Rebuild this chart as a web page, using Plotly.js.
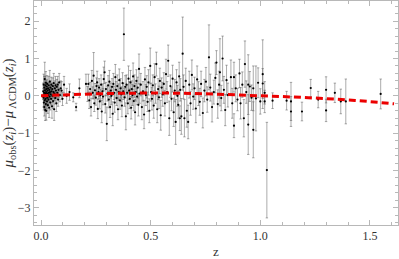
<!DOCTYPE html>
<html>
<head>
<meta charset="utf-8">
<script src="https://cdn.plot.ly/plotly-3.0.1.min.js"></script>
<style>html,body{margin:0;padding:0;background:#fff}#chart{width:399px;height:259px}</style>
</head>
<body>
<div id="chart"></div>
<script>
// Redshift of each supernova
const zVals = [
0.010,0.011,0.012,0.013,0.014,0.015,0.015,0.016,0.017,0.017,0.018,0.019,0.020,0.020,0.021,0.022,0.022,0.023,0.024,0.024,
0.025,0.026,0.027,0.028,0.028,0.029,0.030,0.031,0.032,0.033,0.034,0.035,0.036,0.037,0.038,0.039,0.040,0.041,0.042,0.043,
0.044,0.046,0.047,0.048,0.050,0.051,0.052,0.054,0.055,0.057,0.058,0.060,0.061,0.063,0.065,0.066,0.068,0.070,0.072,0.074,
0.076,0.078,0.080,0.083,0.086,0.090,0.094,0.098,0.105,0.117,0.130,0.147,0.160,0.175,
0.205,0.212,0.216,0.220,0.224,0.228,0.232,0.236,0.240,0.243,0.246,0.250,0.253,0.256,0.259,0.262,0.265,0.268,0.271,0.274,
0.277,0.280,0.283,0.286,0.290,0.293,0.296,0.300,0.303,0.306,0.309,0.312,0.315,0.318,0.321,0.324,0.327,0.330,0.333,0.336,
0.339,0.342,0.345,0.348,0.351,0.354,0.357,0.360,0.363,0.366,0.369,0.372,0.375,0.378,0.381,0.384,0.387,0.390,0.393,0.396,
0.399,0.402,0.405,0.408,0.411,0.414,0.417,0.420,0.423,0.426,0.429,0.432,0.435,0.438,0.441,0.444,0.447,0.450,
0.455,0.460,0.465,0.470,0.474,0.478,0.482,0.486,0.490,0.494,0.498,0.502,0.506,0.510,0.514,0.518,0.522,0.526,0.530,0.534,
0.538,0.542,0.546,0.550,0.555,0.560,0.565,0.570,0.575,0.580,0.585,0.590,0.595,0.600,0.605,0.610,0.614,0.618,0.622,0.626,
0.630,0.633,0.635,0.640,0.646,0.650,0.654,0.660,0.665,0.671,0.676,0.682,0.688,0.694,0.700,0.706,0.712,0.718,0.724,0.730,
0.738,0.745,0.752,0.758,0.766,0.772,0.780,0.788,0.795,0.800,0.806,0.812,0.816,0.822,0.828,0.834,0.840,0.846,0.852,
0.866,0.872,0.880,0.880,0.888,0.896,0.905,0.910,0.918,0.925,0.930,0.936,0.945,0.945,0.952,0.960,0.968,0.968,0.980,0.990,1.000,
1.011,1.011,1.020,1.020,1.030,1.056,1.120,1.140,1.140,1.190,1.230,1.264,1.300,1.300,1.340,1.367,1.390,1.549
];
// Distance-modulus residual mu_obs - mu_LCDM
const residuals = [
0.12,-0.05,0.30,-0.18,0.08,0.22,-0.30,0.02,0.45,-0.12,0.15,-0.38,0.05,0.28,-0.08,0.35,-0.22,0.10,0.18,-0.40,
0.00,0.25,-0.15,0.06,0.32,-0.05,0.14,-0.25,0.20,0.02,-0.10,0.28,0.08,-0.32,0.16,-0.02,0.38,0.10,-0.18,0.22,
0.04,-0.08,0.30,0.12,-0.28,0.18,0.00,0.26,-0.14,0.10,0.34,-0.36,0.06,0.20,-0.06,0.28,0.14,-0.20,0.24,0.08,
0.30,-0.10,0.16,0.36,0.02,0.20,0.14,-0.08,0.30,0.00,0.10,-0.04,-0.30,0.20,
0.32,0.05,0.32,-0.12,0.18,-0.30,0.40,0.08,0.54,-0.20,0.15,-0.05,0.26,0.36,-0.35,0.10,0.22,-0.15,0.02,0.30,
-0.42,0.12,-0.02,0.45,0.63,-0.22,0.18,-0.75,0.06,0.28,-0.10,0.38,-0.30,0.14,0.00,0.24,-0.48,0.32,0.08,-0.18,
0.50,0.16,-0.06,0.26,-0.36,0.10,0.42,-0.12,0.20,0.04,-0.26,0.34,0.12,1.65,-0.04,0.24,-0.55,0.30,0.08,-0.20,
0.46,0.14,-0.08,0.36,-0.32,0.18,0.02,0.52,-0.14,0.26,-0.44,0.10,0.40,-0.02,0.22,-0.24,0.72,0.06,
0.30,-0.30,0.12,-0.50,0.44,0.02,0.24,-0.16,0.36,-0.40,0.80,0.10,-0.08,0.28,-0.26,0.50,0.06,0.85,-0.36,0.18,
-0.04,0.40,-0.52,0.22,0.04,0.32,-0.20,0.58,0.10,0.94,-0.60,0.26,-0.08,0.46,-0.44,0.14,-0.70,0.36,0.00,-0.24,
0.52,-0.60,0.16,-0.55,1.13,0.24,-0.60,0.40,-0.40,-0.70,0.30,-0.20,0.56,-0.02,0.20,-0.34,0.44,0.06,-0.16,0.32,
-0.46,0.14,0.38,-0.10,1.03,0.22,-0.30,0.10,0.48,0.89,-0.22,0.30,0.63,-0.06,1.00,0.16,-0.38,0.42,0.02,
0.50,-0.20,0.50,-0.80,0.20,-0.10,0.60,-0.20,0.30,-0.60,0.85,0.10,0.30,-0.77,0.25,-0.05,0.20,-0.91,-0.07,0.35,-0.15,
0.58,0.33,0.08,-0.15,-1.99,-0.13,-0.13,-0.15,-0.42,-0.42,0.21,-0.10,0.16,-0.39,0.08,-0.15,-0.15,0.05
];
// One-sigma uncertainty of each residual
const errors = [
0.22,0.25,0.28,0.20,0.18,0.30,0.24,0.16,0.45,0.22,0.20,0.28,0.15,0.25,0.18,0.30,0.20,0.14,0.22,0.25,
0.16,0.18,0.20,0.14,0.22,0.16,0.18,0.22,0.16,0.14,0.18,0.24,0.15,0.26,0.18,0.14,0.30,0.16,0.20,0.18,
0.14,0.16,0.20,0.15,0.32,0.16,0.18,0.22,0.20,0.15,0.26,0.30,0.18,0.20,0.16,0.24,0.18,0.22,0.20,0.16,
0.22,0.18,0.20,0.24,0.18,0.20,0.24,0.18,0.22,0.20,0.22,0.12,0.10,0.25,
0.26,0.20,0.26,0.22,0.18,0.24,0.28,0.16,0.62,0.22,0.18,0.20,0.22,0.30,0.26,0.18,0.24,0.20,0.16,0.26,
0.30,0.20,0.22,0.32,0.30,0.24,0.18,0.45,0.20,0.26,0.22,0.30,0.28,0.20,0.24,0.22,0.32,0.28,0.18,0.26,
0.34,0.22,0.20,0.30,0.28,0.22,0.30,0.24,0.26,0.20,0.30,0.28,0.22,0.70,0.24,0.30,0.36,0.26,0.22,0.28,
0.34,0.24,0.26,0.32,0.30,0.22,0.28,0.36,0.26,0.30,0.34,0.24,0.30,0.22,0.28,0.30,0.40,0.26,
0.30,0.34,0.26,0.38,0.32,0.28,0.30,0.26,0.34,0.32,0.48,0.24,0.30,0.28,0.34,0.36,0.26,0.32,0.36,0.28,
0.30,0.34,0.40,0.26,0.32,0.30,0.34,0.40,0.28,0.42,0.46,0.30,0.32,0.36,0.38,0.30,0.60,0.34,0.28,0.36,
0.38,0.33,0.30,0.48,0.98,0.32,0.50,0.34,0.44,0.45,0.36,0.32,0.40,0.34,0.30,0.38,0.36,0.32,0.36,0.34,
0.40,0.30,0.38,0.34,0.87,0.36,0.40,0.32,0.40,0.32,0.38,0.36,0.90,0.34,0.60,0.36,0.42,0.40,0.32,
0.46,0.40,0.40,0.32,0.36,0.30,0.38,0.42,0.34,0.50,0.62,0.30,0.80,0.80,0.40,0.34,0.60,0.75,0.87,0.40,0.34,
0.92,0.40,0.30,0.30,1.28,0.21,0.25,0.51,0.40,0.25,0.23,0.22,0.35,0.30,0.26,0.33,0.60,0.40
];
// Model curve (red dashed)
const modelZ  = [0,0.1,0.2,0.3,0.4,0.5,0.6,0.7,0.8,0.9,1.0,1.1,1.2,1.3,1.4,1.5,1.61];
const modelMu = [0,0.025,0.045,0.06,0.07,0.075,0.072,0.062,0.045,0.025,0.0,-0.02,-0.045,-0.075,-0.11,-0.155,-0.215];

const frameCol = '#b8b8b8';
const serif = 'Liberation Serif, Times New Roman, serif';

const traces = [
  {
    x: zVals, y: residuals, type: 'scatter', mode: 'markers',
    marker: {color: '#000', size: 2.2},
    error_y: {type: 'data', array: errors, visible: true, color: 'rgba(90,90,90,0.5)', thickness: 1, width: 1.2},
    hoverinfo: 'skip', showlegend: false
  },
  {
    x: modelZ, y: modelMu, type: 'scatter', mode: 'lines',
    line: {color: 'rgb(236,0,0)', width: 3, dash: '7px,4px', shape: 'spline'},
    hoverinfo: 'skip', showlegend: false
  }
];

const axisCommon = {
  showgrid: false, zeroline: false, showline: true, linecolor: frameCol, linewidth: 1,
  mirror: 'ticks', ticks: 'inside', ticklen: 5, tickcolor: frameCol, tickwidth: 1,
  tickfont: {family: serif, size: 12, color: '#333'}
};

const layout = {
  width: 399, height: 259,
  margin: {l: 34, r: 1, t: 1, b: 34},
  paper_bgcolor: '#fff', plot_bgcolor: '#fff',
  showlegend: false,
  xaxis: Object.assign({}, axisCommon, {
    range: [-0.032, 1.628], tick0: 0, dtick: 0.5, tickformat: '.1f',
    minor: {dtick: 0.1, tick0: 0, ticks: 'inside', ticklen: 3, tickcolor: frameCol},
    title: {text: 'z', font: {family: serif, size: 13, color: '#333'}, standoff: 6}
  }),
  yaxis: Object.assign({}, axisCommon, {
    range: [-3.46, 2.54], tick0: 0, dtick: 1,
    minor: {dtick: 0.2, tick0: 0, ticks: 'inside', ticklen: 3, tickcolor: frameCol},
    title: {text: '<i>μ</i><sub>obs</sub>(<i>z<sub>i</sub></i>)−<i>μ</i><sub> ΛCDM</sub>(<i>z<sub>i</sub></i>)',
            font: {family: serif, size: 15, color: '#333'}, standoff: 2}
  })
};

Plotly.newPlot('chart', traces, layout, {staticPlot: true, displayModeBar: false});
</script>
</body>
</html>
